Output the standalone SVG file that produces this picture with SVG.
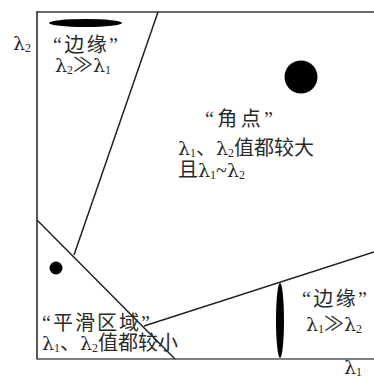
<svg xmlns="http://www.w3.org/2000/svg" width="374" height="379" viewBox="0 0 374 379">
<style>
.t{font-family:"Liberation Serif","Noto Sans CJK SC",serif;font-size:20px;fill:#2a2a2a}
.g{font-family:"DejaVu Serif",serif;font-size:19px}
.s{font-family:"Liberation Serif",serif;font-size:12px}
.ln{stroke:#222;stroke-width:1.5;fill:none}
.blob{fill:#000}
</style>
<rect width="374" height="379" fill="#fff"/>
<g id="axes">
<line x1="37" y1="12" x2="374" y2="12" stroke="#6a6a6a" stroke-width="2"/>
<line x1="37" y1="11" x2="37" y2="359.5" class="ln"/>
<line x1="37" y1="359" x2="374" y2="359" stroke="#555" stroke-width="1.6"/>
</g>
<g id="connectors">
<line class="ln" x1="158" y1="12" x2="74" y2="255"/>
<line class="ln" x1="37" y1="220" x2="175" y2="359"/>
<line class="ln" x1="144" y1="326" x2="374" y2="252"/>
</g>
<g id="edge-top">
<ellipse class="blob" cx="85.5" cy="23" rx="36.5" ry="4"/>
<text class="t" x="53" y="52" textLength="65" lengthAdjust="spacing">“边缘”</text>
<text class="t" x="55" y="72"><tspan class="g">λ</tspan><tspan class="s" dy="2">2</tspan><tspan dy="-2">≫</tspan><tspan class="g">λ</tspan><tspan class="s" dy="2">1</tspan></text>
</g>
<g id="corner">
<circle class="blob" cx="301" cy="77" r="16.5"/>
<text class="t" x="205" y="126" textLength="68" lengthAdjust="spacing">“角点”</text>
<text class="t" x="178" y="155"><tspan class="g">λ</tspan><tspan class="s" dy="2">1</tspan><tspan dy="-2">、</tspan><tspan class="g">λ</tspan><tspan class="s" dy="2">2</tspan><tspan dy="-2">值都较大</tspan></text>
<text class="t" x="178" y="177">且<tspan class="g">λ</tspan><tspan class="s" dy="2">1</tspan><tspan dy="-2">~</tspan><tspan class="g">λ</tspan><tspan class="s" dy="2">2</tspan></text>
</g>
<g id="flat">
<circle class="blob" cx="56" cy="268" r="6.5"/>
<text class="t" x="42" y="330" textLength="108" lengthAdjust="spacing">“平滑区域”</text>
<text class="t" x="42" y="350"><tspan class="g">λ</tspan><tspan class="s" dy="2">1</tspan><tspan dy="-2">、</tspan><tspan class="g">λ</tspan><tspan class="s" dy="2">2</tspan><tspan dy="-2">值都较小</tspan></text>
</g>
<g id="edge-right">
<ellipse class="blob" cx="280" cy="320.5" rx="4" ry="37.5"/>
<text class="t" x="302" y="306" textLength="65" lengthAdjust="spacing">“边缘”</text>
<text class="t" x="306" y="331"><tspan class="g">λ</tspan><tspan class="s" dy="2">1</tspan><tspan dy="-2">≫</tspan><tspan class="g">λ</tspan><tspan class="s" dy="2">2</tspan></text>
</g>
<g id="labels">
<text class="t" x="13" y="50"><tspan class="g">λ</tspan><tspan class="s" dy="2">2</tspan></text>
<text class="t" x="344" y="374"><tspan class="g">λ</tspan><tspan class="s" dy="2">1</tspan></text>
</g>
</svg>
